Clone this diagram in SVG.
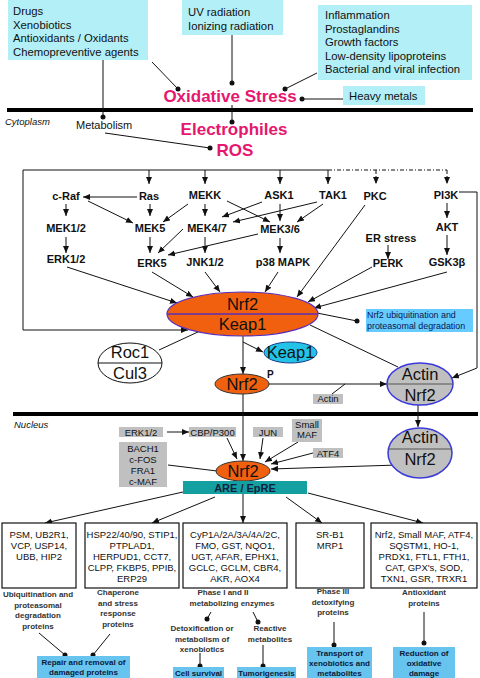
<svg xmlns="http://www.w3.org/2000/svg" width="480" height="678" viewBox="0 0 480 678">
<defs>
<marker id="ah" markerUnits="userSpaceOnUse" markerWidth="8" markerHeight="7" refX="7" refY="3" orient="auto">
<path d="M0,0 L7,3 L0,6 z" fill="#111"/>
</marker>
<style>
text{font-family:"Liberation Sans",Arial,sans-serif;fill:#111}
.src rect{fill:#b2eff7}
.src text{font-size:11.3px}
.pink{font-weight:bold;font-size:17px;fill:#e6176f;text-anchor:middle}
.k{font-weight:bold;font-size:11px;text-anchor:middle}
.big{font-size:16.5px;text-anchor:middle}
.gb rect{fill:#c0c0c0}
.gb text{font-size:9.5px;text-anchor:middle}
.box rect{fill:#fff;stroke:#111;stroke-width:1.2}
.box text{font-size:9.5px;text-anchor:middle}
.lbl{font-weight:bold;font-size:8px;text-anchor:middle;fill:#333}
.res rect{fill:#66c4ef}
.res text{font-weight:bold;font-size:8px;text-anchor:middle;fill:#0a1a3a}
.c line,.c polyline{stroke:#111;stroke-width:1;fill:none}
.c .ar{marker-end:url(#ah)}
.c .dd{stroke-dasharray:4 2 1 2}
.c circle{fill:#111}
.mem{stroke:#000;stroke-width:4}
.it{font-style:italic;font-size:9.5px}
</style>
</defs>
<rect width="480" height="678" fill="#fff"/>

<!-- membranes -->
<line class="mem" x1="7" y1="110" x2="473" y2="110"/>
<line class="mem" x1="13" y1="414" x2="478" y2="414"/>
<text class="it" x="5" y="125">Cytoplasm</text>
<text class="it" x="14" y="428">Nucleus</text>

<!-- source boxes -->
<g id="drugs" class="src"><rect x="8" y="0" width="140" height="60"/>
<text x="13" y="15">Drugs</text><text x="13" y="28.5">Xenobiotics</text><text x="13" y="42">Antioxidants / Oxidants</text><text x="13" y="55.5">Chemopreventive agents</text></g>
<g id="uv" class="src"><rect x="182" y="0" width="101" height="35"/>
<text x="188" y="16">UV radiation</text><text x="188" y="29.5">Ionizing radiation</text></g>
<g id="inflam" class="src"><rect x="318" y="5" width="154" height="75"/>
<text x="325" y="19">Inflammation</text><text x="325" y="32.5">Prostaglandins</text><text x="325" y="46">Growth factors</text><text x="325" y="59.5">Low-density lipoproteins</text><text x="325" y="73">Bacterial and viral infection</text></g>
<g id="heavy" class="src"><rect x="343" y="86" width="82" height="19"/>
<text x="349" y="99.5">Heavy metals</text></g>

<g id="oxstress"><text class="pink" x="230" y="102">Oxidative Stress</text></g>
<g id="electrophiles"><text class="pink" x="234" y="135">Electrophiles</text></g>
<g id="ros"><text class="pink" x="235" y="156">ROS</text></g>
<g id="metabolism"><text x="76" y="129" font-size="11">Metabolism</text></g>

<!-- kinases -->
<g id="craf"><text class="k" x="66" y="200">c-Raf</text></g>
<g id="ras"><text class="k" x="149" y="200">Ras</text></g>
<g id="mekk"><text class="k" x="205" y="199">MEKK</text></g>
<g id="ask1"><text class="k" x="279" y="199">ASK1</text></g>
<g id="tak1"><text class="k" x="333" y="199">TAK1</text></g>
<g id="pkc"><text class="k" x="375" y="200">PKC</text></g>
<g id="pi3k"><text class="k" x="446" y="199">PI3K</text></g>
<g id="mek12"><text class="k" x="66" y="232">MEK1/2</text></g>
<g id="mek5"><text class="k" x="150" y="232">MEK5</text></g>
<g id="mek47"><text class="k" x="207" y="232">MEK4/7</text></g>
<g id="mek36"><text class="k" x="280" y="233">MEK3/6</text></g>
<g id="akt"><text class="k" x="447" y="231">AKT</text></g>
<g id="erstress"><text class="k" x="391" y="242">ER stress</text></g>
<g id="erk12"><text class="k" x="66" y="263">ERK1/2</text></g>
<g id="erk5"><text class="k" x="152" y="267">ERK5</text></g>
<g id="jnk"><text class="k" x="205" y="266">JNK1/2</text></g>
<g id="p38"><text class="k" x="283" y="266">p38 MAPK</text></g>
<g id="perk"><text class="k" x="388" y="267">PERK</text></g>
<g id="gsk"><text class="k" x="447" y="266">GSK3β</text></g>

<!-- connectors -->
<g id="connectors" class="c">
<line x1="152" y1="62" x2="178" y2="89"/><circle cx="178" cy="89" r="2.5"/>
<line x1="232" y1="35" x2="232" y2="83"/><circle cx="232" cy="83" r="2.5"/>
<line x1="317" y1="73" x2="285" y2="89"/><circle cx="285" cy="89" r="2.5"/>
<line x1="343" y1="99" x2="302" y2="99"/><circle cx="302" cy="99" r="2.5"/>
<line x1="103" y1="60" x2="103" y2="117"/><circle cx="103" cy="117" r="2.5"/>
<line x1="232" y1="105" x2="232" y2="122"/><circle cx="232" cy="122" r="2.5"/>
<line x1="105" y1="133" x2="210" y2="148"/><circle cx="210" cy="148" r="2.5"/>
<!-- frame -->
<polyline class="ar" points="328,170 23,170 23,330 188,330"/>
<line class="dd" x1="328" y1="170" x2="447" y2="170"/>
<line class="ar" x1="149" y1="170" x2="149" y2="184"/>
<line class="ar" x1="205" y1="170" x2="205" y2="184"/>
<line class="ar" x1="280" y1="170" x2="280" y2="184"/>
<line class="ar" x1="328" y1="170" x2="328" y2="184"/>
<line class="ar dd" x1="376" y1="170" x2="376" y2="184"/>
<line class="ar dd" x1="447" y1="170" x2="447" y2="184"/>
<!-- kinase cascade -->
<line class="ar" x1="137" y1="197" x2="83" y2="197"/>
<line class="ar" x1="66" y1="204" x2="66" y2="216"/>
<line class="ar" x1="66" y1="237" x2="66" y2="253"/>
<line class="ar" x1="150" y1="204" x2="150" y2="216"/>
<line class="ar" x1="88" y1="201" x2="133" y2="223"/>
<line class="ar" x1="188" y1="204" x2="163" y2="222"/>
<line class="ar" x1="205" y1="204" x2="205" y2="216"/>
<line class="ar" x1="227" y1="201" x2="270" y2="222"/>
<line class="ar" x1="262" y1="202" x2="222" y2="217"/>
<line class="ar" x1="280" y1="204" x2="280" y2="221"/>
<line class="ar" x1="317" y1="202" x2="233" y2="222"/>
<line class="ar" x1="323" y1="204" x2="297" y2="222"/>
<line class="ar" x1="150" y1="237" x2="150" y2="253"/>
<line class="ar" x1="183" y1="229" x2="158" y2="253"/>
<line class="ar" x1="258" y1="234" x2="168" y2="255"/>
<line class="ar" x1="205" y1="237" x2="205" y2="253"/>
<line class="ar" x1="280" y1="238" x2="280" y2="253"/>
<line class="ar" x1="388" y1="245" x2="388" y2="259"/>
<line class="ar" x1="447" y1="203" x2="447" y2="218"/>
<line class="ar" x1="447" y1="235" x2="447" y2="255"/>
<polyline class="ar" points="459,192 477,192 477,368 452,378"/>
<!-- into Nrf2/Keap1 -->
<line class="ar" x1="67" y1="267" x2="177" y2="303"/>
<line class="ar" x1="152" y1="272" x2="193" y2="297"/>
<line class="ar" x1="205" y1="272" x2="220" y2="292"/>
<line class="ar" x1="278" y1="272" x2="265" y2="292"/>
<line class="ar" x1="365" y1="205" x2="297" y2="297"/>
<line class="ar" x1="372" y1="267" x2="308" y2="302"/>
<line class="ar" x1="447" y1="272" x2="314" y2="308"/>
<line x1="317" y1="313" x2="357" y2="321"/><circle cx="357" cy="321" r="2.5"/>
<line x1="159" y1="350" x2="200" y2="331"/>
<line class="ar" x1="243" y1="336" x2="243" y2="374"/>
<line class="ar" x1="243" y1="342" x2="263" y2="352"/>
<line x1="310" y1="325" x2="398" y2="367"/>
<line class="ar" x1="269" y1="384" x2="387" y2="384"/>
<line x1="345" y1="384" x2="332" y2="394"/>
<line class="ar" x1="243" y1="394" x2="243" y2="461"/>
<line class="ar" x1="418" y1="405" x2="418" y2="427"/>
<!-- nucleus -->
<line class="ar" x1="167" y1="432" x2="189" y2="432"/>
<line class="ar" x1="227" y1="438" x2="237" y2="459"/>
<line class="ar" x1="263" y1="438" x2="260" y2="459"/>
<line class="ar" x1="298" y1="442" x2="265" y2="462"/>
<line class="ar" x1="313" y1="453" x2="271" y2="464"/>
<line class="ar" x1="398" y1="465" x2="271" y2="469"/>
<line x1="168" y1="465" x2="217" y2="471"/>
<!-- ARE to targets -->
<line class="ar" x1="183" y1="492" x2="45" y2="523"/>
<line class="ar" x1="215" y1="497" x2="152" y2="523"/>
<line class="ar" x1="243" y1="494" x2="243" y2="523"/>
<line class="ar" x1="286" y1="497" x2="322" y2="523"/>
<line class="ar" x1="308" y1="493" x2="423" y2="523"/>
<!-- outcomes -->
<line x1="39" y1="633" x2="65" y2="655"/><circle cx="65" cy="655" r="2.5"/>
<line x1="110" y1="634" x2="93" y2="655"/><circle cx="93" cy="655" r="2.5"/>
<line x1="211" y1="612" x2="207" y2="619"/><circle cx="207" cy="619" r="2.5"/>
<line x1="253" y1="612" x2="258" y2="622"/><circle cx="258" cy="622" r="2.5"/>
<line x1="200" y1="653" x2="200" y2="666"/><circle cx="200" cy="666" r="2.5"/>
<line x1="263" y1="645" x2="263" y2="666"/><circle cx="263" cy="666" r="2.5"/>
<line x1="334" y1="622" x2="334" y2="645"/><circle cx="334" cy="645" r="2.5"/>
<line x1="424" y1="612" x2="424" y2="643"/><circle cx="424" cy="643" r="2.5"/>
</g>

<!-- complexes -->
<g id="nrf2keap1">
<ellipse cx="242.5" cy="314" rx="75.5" ry="22" fill="#f0600e" stroke="#5a30b8" stroke-width="1.2"/>
<line x1="167" y1="314" x2="318" y2="314" stroke="#5a30b8" stroke-width="1.5"/>
<text class="big" x="242.5" y="310">Nrf2</text><text class="big" x="242.5" y="330">Keap1</text>
</g>
<g id="ubiq"><rect x="366" y="309" width="107" height="23" fill="#66ccff"/>
<text x="367" y="318" font-size="8.9" fill="#0a1650" style="fill:#0a1650">Nrf2 ubiquitination and</text>
<text x="367" y="329" font-size="8.9" style="fill:#0a1650">proteasomal degradation</text></g>
<g id="roccul">
<ellipse cx="130" cy="363" rx="32" ry="20" fill="#fff" stroke="#111"/>
<line x1="98" y1="363" x2="162" y2="363" stroke="#111"/>
<text class="big" x="130" y="358" font-size="16">Roc1</text><text class="big" x="130" y="379" font-size="16">Cul3</text>
</g>
<g id="keap1free">
<ellipse cx="290.5" cy="352.5" rx="26.5" ry="10.5" fill="#22c3e6" stroke="#1a3a8a"/>
<text class="big" x="290.5" y="358">Keap1</text>
</g>
<g id="nrf2p">
<ellipse cx="242" cy="384" rx="27" ry="10" fill="#f0600e" stroke="#333"/>
<text class="big" x="242" y="390">Nrf2</text>
<text x="267" y="378" font-size="10" font-weight="bold">P</text>
</g>
<g id="actinlbl" class="gb"><rect x="313" y="394" width="30" height="10"/><text x="328" y="402" font-size="9">Actin</text></g>
<g id="actinnrf2c">
<ellipse cx="420" cy="384" rx="33" ry="21" fill="#c0c0c0" stroke="#3a3ad8" stroke-width="1.5"/>
<line x1="387" y1="384" x2="453" y2="384" stroke="#555"/>
<text class="big" x="420" y="380">Actin</text><text class="big" x="420" y="401">Nrf2</text>
</g>

<!-- nuclear factors -->
<g id="erk12n" class="gb"><rect x="119" y="427" width="44" height="10"/><text x="141" y="435.5">ERK1/2</text></g>
<g id="cbp" class="gb"><rect x="189" y="427" width="47" height="10"/><text x="212.5" y="435.5">CBP/P300</text></g>
<g id="jun" class="gb"><rect x="253" y="427" width="30" height="10"/><text x="268" y="435.5">JUN</text></g>
<g id="smaf" class="gb"><rect x="292" y="419" width="30" height="23"/><text x="307" y="427.5">Small</text><text x="307" y="438">MAF</text></g>
<g id="atf4" class="gb"><rect x="313" y="448" width="30" height="10"/><text x="328" y="456.5">ATF4</text></g>
<g id="bach" class="gb"><rect x="119" y="442" width="48" height="45"/>
<text x="143" y="451.5">BACH1</text><text x="143" y="462.5">c-FOS</text><text x="143" y="473.5">FRA1</text><text x="143" y="484.5">c-MAF</text></g>
<g id="nrf2n">
<ellipse cx="243" cy="471" rx="27" ry="10" fill="#f0600e" stroke="#333"/>
<text class="big" x="243" y="477">Nrf2</text>
</g>
<g id="actinnrf2n">
<ellipse cx="420" cy="453" rx="32" ry="25" fill="#c0c0c0" stroke="#3a3ad8" stroke-width="1.5"/>
<line x1="388" y1="449" x2="452" y2="449" stroke="#555"/>
<text class="big" x="420" y="443">Actin</text><text class="big" x="420" y="465">Nrf2</text>
</g>
<g id="are"><rect x="183" y="481" width="124" height="13" fill="#14a0a0"/>
<text x="245" y="491.5" font-size="11" font-weight="bold" text-anchor="middle" style="fill:#102040">ARE / EpRE</text></g>

<!-- target gene boxes -->
<g id="box1" class="box"><rect x="2" y="523" width="74" height="65"/>
<text x="39" y="538">PSM, UB2R1,</text><text x="39" y="549">VCP, USP14,</text><text x="39" y="560">UBB, HIP2</text></g>
<g id="box2" class="box"><rect x="85" y="523" width="94" height="65"/>
<text x="132" y="537.5">HSP22/40/90, STIP1,</text><text x="132" y="548.5">PTPLAD1,</text><text x="132" y="559.5">HERPUD1, CCT7,</text><text x="132" y="570.5">CLPP, FKBP5, PPIB,</text><text x="132" y="581.5">ERP29</text></g>
<g id="box3" class="box"><rect x="183" y="523" width="104" height="65"/>
<text x="235" y="537.5">CyP1A/2A/3A/4A/2C,</text><text x="235" y="548.5">FMO, GST, NQO1,</text><text x="235" y="559.5">UGT, AFAR, EPHX1,</text><text x="235" y="570.5">GCLC, GCLM, CBR4,</text><text x="235" y="581.5">AKR, AOX4</text></g>
<g id="box4" class="box"><rect x="296" y="523" width="68" height="65"/>
<text x="330" y="537.5">SR-B1</text><text x="330" y="548.5">MRP1</text></g>
<g id="box5" class="box"><rect x="371" y="523" width="106" height="65"/>
<text x="424" y="537.5">Nrf2, Small MAF, ATF4,</text><text x="424" y="548.5">SQSTM1, HO-1,</text><text x="424" y="559.5">PRDX1, FTL1, FTH1,</text><text x="424" y="570.5">CAT, GPX's, SOD,</text><text x="424" y="581.5">TXN1, GSR, TRXR1</text></g>

<!-- category labels -->
<g id="lbl1"><text class="lbl" x="38" y="597">Ubiquitination and</text><text class="lbl" x="38" y="607.5">proteasomal</text><text class="lbl" x="38" y="618">degradation</text><text class="lbl" x="38" y="628.5">proteins</text></g>
<g id="lbl2"><text class="lbl" x="118" y="595">Chaperone</text><text class="lbl" x="118" y="605.5">and stress</text><text class="lbl" x="118" y="616">response</text><text class="lbl" x="118" y="626.5">proteins</text></g>
<g id="lbl3"><text class="lbl" x="223" y="595">Phase I and II</text><text class="lbl" x="232" y="606">metabolizing enzymes</text></g>
<g id="lbl3a"><text class="lbl" x="202" y="631">Detoxification or</text><text class="lbl" x="202" y="641.5">metabolism of</text><text class="lbl" x="202" y="652">xenobiotics</text></g>
<g id="lbl3b"><text class="lbl" x="270" y="631">Reactive</text><text class="lbl" x="270" y="641.5">metabolites</text></g>
<g id="lbl4"><text class="lbl" x="333" y="594">Phase III</text><text class="lbl" x="333" y="604.5">detoxifying</text><text class="lbl" x="333" y="615">proteins</text></g>
<g id="lbl5"><text class="lbl" x="424" y="595">Antioxidant</text><text class="lbl" x="424" y="605.5">proteins</text></g>

<!-- outcomes -->
<g id="repair" class="res"><rect x="37" y="656" width="93" height="22"/><text x="83.5" y="665">Repair and removal of</text><text x="83.5" y="675">damaged proteins</text></g>
<g id="survival" class="res"><rect x="173" y="667" width="51" height="11"/><text x="198.5" y="676">Cell survival</text></g>
<g id="tumor" class="res"><rect x="237" y="667" width="59" height="11"/><text x="266.5" y="676">Tumorigenesis</text></g>
<g id="transport" class="res"><rect x="307" y="647" width="65" height="31"/><text x="339.5" y="655.5">Transport of</text><text x="339.5" y="665.5">xenobiotics and</text><text x="339.5" y="675.5">metabolites</text></g>
<g id="reduction" class="res"><rect x="393" y="647" width="62" height="31"/><text x="424" y="655.5">Reduction of</text><text x="424" y="665.5">oxidative</text><text x="424" y="675.5">damage</text></g>
</svg>
